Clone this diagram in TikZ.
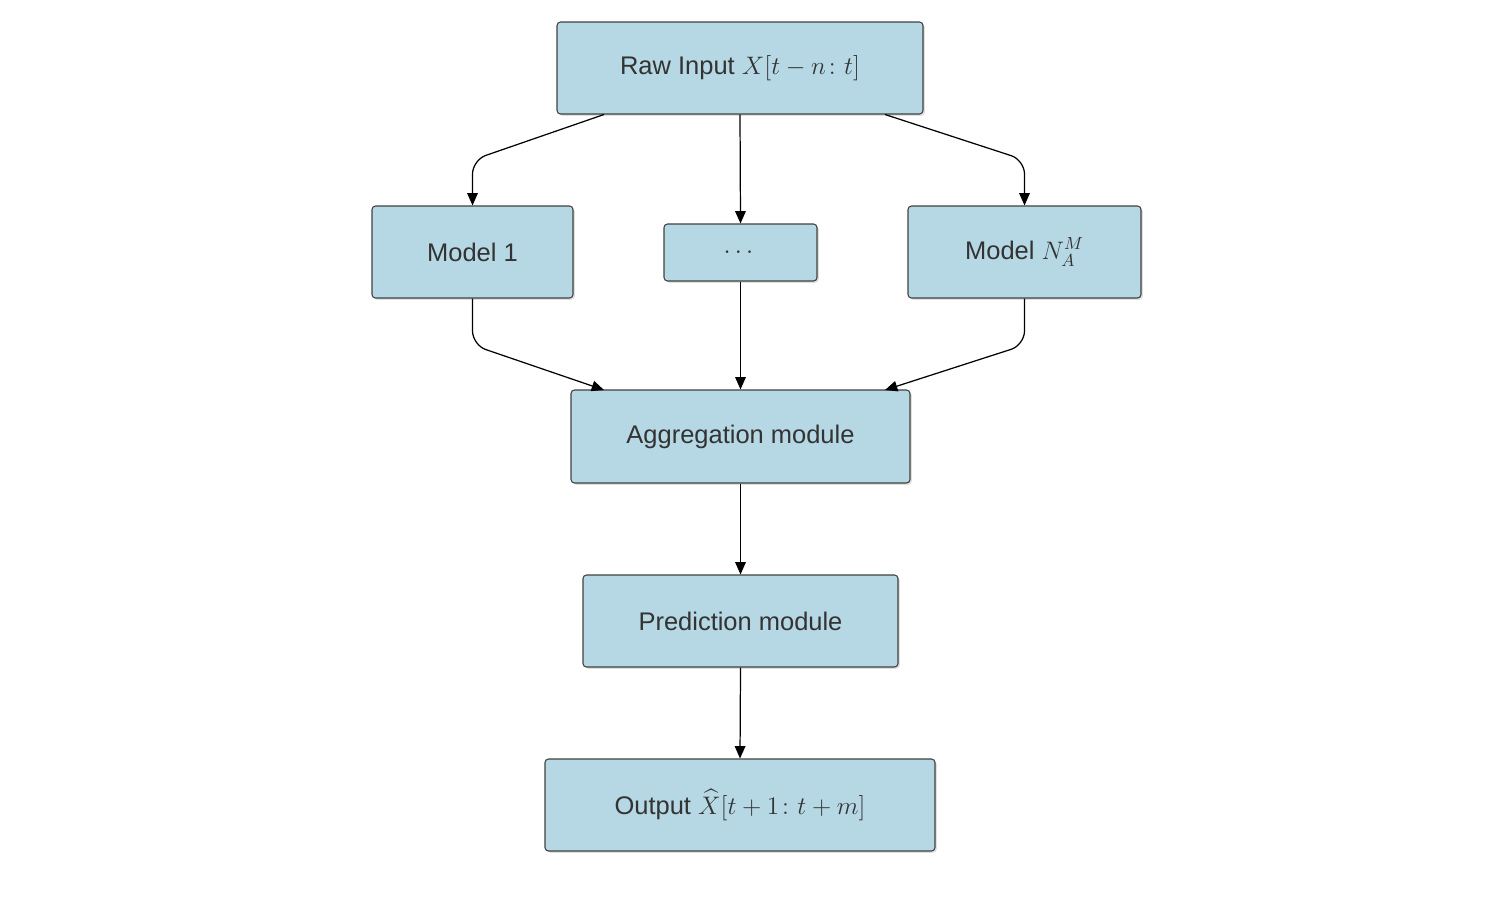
\documentclass[tikz,border=0pt]{standalone}
\usepackage{amsmath}
\usepackage{fontspec}
\setmainfont{Liberation Sans}
\usetikzlibrary{arrows.meta,shadows}

\begin{document}
\begin{tikzpicture}
  [x=0.02cm,y=-0.02cm,
  box/.style={draw=black!75,fill=boxblue,rounded corners=2pt,line width=0.6pt,
    drop shadow={opacity=0.25,shadow xshift=1pt,shadow yshift=-1pt},
    text=black!80,font=\fontsize{14.5}{17}\selectfont,inner sep=0pt},
  link/.style={-{Triangle[length=7pt,width=6pt]},line width=0.7pt,rounded corners=8pt}]
\definecolor{boxblue}{RGB}{181,216,228}
\useasboundingbox (0,0) rectangle (1496,910);

\node[box,minimum width=366*0.02cm,minimum height=92*0.02cm] (raw) at (740,68) {Raw Input $X[t-n\colon t]$};
\node[box,minimum width=201*0.02cm,minimum height=92*0.02cm] (m1) at (472.5,252) {Model 1};
\node[box,minimum width=153*0.02cm,minimum height=57*0.02cm] (dots) at (740.5,252.5) {$\cdots$};
\node[box,minimum width=233*0.02cm,minimum height=92*0.02cm] (mn) at (1024.5,252) {Model $N_A^M$};
\node[box,minimum width=339*0.02cm,minimum height=93*0.02cm] (agg) at (740.5,436.5) {Aggregation module};
\node[box,minimum width=315*0.02cm,minimum height=92*0.02cm] (pred) at (740.5,621) {Prediction module};
\node[box,minimum width=390*0.02cm,minimum height=92*0.02cm] (out) at (740,805) {Output $\widehat{X}[t+1\colon t+m]$};

% fan out
\draw[link] (604,114.5) -- (472.5,160) -- (m1.north);
\draw[link] (raw.south) -- (dots.north);
\draw[link] (885,114.5) -- (1024.5,160) -- (mn.north);

% fan in
\draw[link] (m1.south) -- (472.5,345) -- (604,390);
\draw[link] (dots.south) -- (agg.north);
\draw[link] (mn.south) -- (1024.5,345) -- (885,390);

\draw[link] (agg.south) -- (pred.north);
\draw[link] (pred.south) -- (out.north);
\end{tikzpicture}
\end{document}
